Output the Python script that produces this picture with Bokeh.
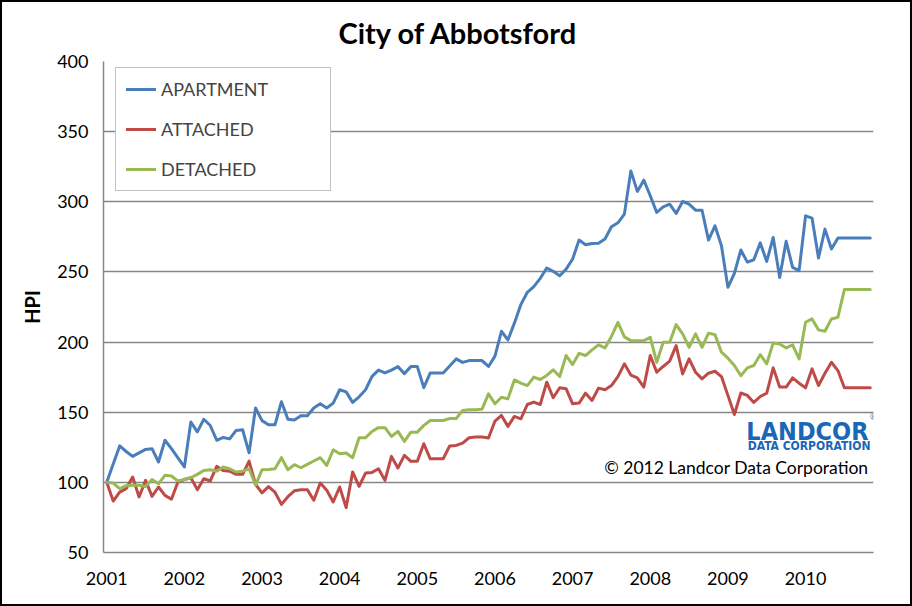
from bokeh.plotting import figure
from bokeh.models import Legend, LegendItem, Label, Range1d, FixedTicker, InlineStyleSheet
from bokeh.embed import file_html
from bokeh.resources import INLINE

year_labels = ["2001", "2002", "2003", "2004", "2005", "2006", "2007", "2008", "2009", "2010"]

apartment = [
    100, 113, 126, 122, 118.5, 121, 123.5, 124, 114.5, 130, 124, 117.5,
    111, 143, 136, 145, 140.5, 130, 132, 131, 137, 137.5, 121, 153,
    144, 141, 141, 157.5, 145, 144.5, 147.5, 147.5, 153, 156, 153, 156.5,
    166, 164.5, 157, 161, 166, 175.5, 180, 178, 180, 182.5, 177.5, 182.5,
    182.5, 167.5, 178, 178, 178, 183, 188, 185.5, 186.8, 186.8, 186.8, 182.6,
    190, 207.7, 201.5, 213.5, 226.7, 235.5, 239.5, 245.4, 252.8, 250.4, 247.3, 252,
    259.2, 272.7, 269.4, 270.3, 270.5, 273.5, 282.2, 285, 291.2, 322, 307.4, 315.4,
    304.3, 292.4, 296.4, 298.3, 291.7, 300.2, 298.3, 294, 294, 272.7, 282.9, 268.7,
    239, 249, 265.6, 257, 258.7, 270.7, 257.5, 274.6, 246.1, 271.8, 253.3, 250.9,
    290, 288.4, 260, 280.5, 266.3, 274.1, 274.1, 274.1, 274.1, 274.1, 274.1,
]

attached = [
    100, 86.7, 93, 95.5, 103.8, 89.6, 101.4, 90, 96.7, 90.7, 88, 100.2,
    102, 103.3, 94.8, 102.6, 101, 111.4, 108.5, 108, 105.7, 105.7, 115.2, 98.5,
    92.5, 97, 93, 84.3, 89.8, 94, 94.8, 94.8, 87.2, 99.5, 94.3, 86,
    96.7, 82, 107.4, 97.2, 106.6, 107.1, 109.7, 101.4, 118.5, 110.2, 119.2, 115,
    115, 127.5, 116.8, 116.8, 116.8, 126, 126.3, 128, 131.8, 132.3, 132.3, 131.6,
    143.7, 147.7, 139.9, 147, 145.3, 155.5, 157.2, 155.5, 171.4, 160.3, 167.4, 166.7,
    156, 156.5, 163.6, 158.4, 167.2, 166, 169, 175.4, 184.5, 176.5, 174.5, 167.9,
    190.4, 178.5, 182.6, 186.4, 197.5, 177.3, 188, 178.5, 173.8, 177.8, 179.2, 175.4,
    162, 148.4, 163.7, 162, 157, 161.2, 163.6, 181.6, 167.9, 167.9, 174.5, 170.7,
    167.4, 180.9, 169, 177.8, 185.6, 179.7, 167.4, 167.4, 167.4, 167.4, 167.4,
]

detached = [
    100, 99.5, 95.5, 97.6, 98, 98, 97, 102, 99, 105, 104.5, 101,
    102, 103.3, 105.7, 108.5, 109, 108, 111, 109.7, 107.4, 108, 109.7, 98,
    109, 109.2, 109.7, 117.6, 109, 112.6, 110.4, 112.8, 115.2, 117.6, 112, 123.2,
    120.4, 120.9, 117.6, 131.8, 131.8, 136.3, 139, 139, 132.7, 136.3, 129.2, 135.8,
    135.8, 140.6, 144.1, 144.1, 144.1, 145.5, 145.5, 151.2, 151.7, 151.7, 152.2, 163.1,
    156, 160.7, 159.5, 173, 170.7, 169, 175, 173.3, 176.2, 180.2, 175.4, 190.4,
    184, 192, 190.4, 194.4, 198, 195.8, 204, 214, 203.7, 201, 201, 201,
    203.4, 185.6, 199.9, 199.9, 212.5, 205.8, 196.3, 205.8, 196.3, 206.3, 205.3, 192.8,
    188.5, 183.3, 176, 181.6, 183.3, 191, 184.5, 199.4, 198.7, 195.8, 198, 188,
    214.1, 216.5, 208.7, 207.7, 216.5, 217.7, 237.4, 237.4, 237.4, 237.4, 237.4,
]

series_names = ["APARTMENT", "ATTACHED", "DETACHED"]
series_colors = ["#4A7EBB", "#BE4B48", "#98B954"]

n = len(apartment)
xs = list(range(n))

FONT = "Lato"
LOGO_FONT = "DejaVu Sans Condensed"
GRID = "#868686"

p = figure(width=912, height=606, output_backend="svg", toolbar_location=None,
           x_range=Range1d(-0.5, n - 0.5), y_range=Range1d(50, 400),
           min_border_left=103, min_border_right=39, min_border_top=60, min_border_bottom=54)
p.stylesheets = [InlineStyleSheet(css=(
    ":host { position: relative; }"
    ":host::after { content: ''; position: absolute; left: 0; top: 0; right: 0; bottom: 0;"
    " border: 2px solid black; pointer-events: none; z-index: 100; }"))]
p.title.text = "City of Abbotsford"
p.title.align = "left"
p.title.offset = 235
p.title.vertical_align = "bottom"
p.title.standoff = 24
p.title.text_font = FONT
p.title.text_font_style = "bold"
p.title.text_font_size = "29px"
p.title.text_color = "black"
p.background_fill_color = "white"
p.border_fill_color = "white"
p.outline_line_color = None

renderers = []
for vals, col in zip([apartment, attached, detached], series_colors):
    r = p.line(xs, vals, line_color=col, line_width=3, line_join="round", line_cap="round")
    renderers.append(r)

# axes
p.xaxis.ticker = FixedTicker(ticks=[12 * i for i in range(len(year_labels))])
p.xaxis.major_label_overrides = {12 * i: lab for i, lab in enumerate(year_labels)}
p.yaxis.ticker = FixedTicker(ticks=list(range(50, 401, 50)))
for ax in (p.xaxis, p.yaxis):
    ax.axis_line_color = GRID
    ax.axis_line_width = 1.5
    ax.major_tick_line_color = None
    ax.minor_tick_line_color = None
    ax.major_label_text_font = FONT
    ax.major_label_text_font_size = "18px"
    ax.major_label_text_color = "black"
p.xaxis.major_label_standoff = 13
p.yaxis.major_label_standoff = 9
p.yaxis.axis_label = "HPI"
p.yaxis.axis_label_text_font = FONT
p.yaxis.axis_label_text_font_style = "bold"
p.yaxis.axis_label_text_font_size = "20px"
p.yaxis.axis_label_text_color = "black"
p.yaxis.axis_label_standoff = 10
p.xgrid.visible = False
p.ygrid.grid_line_color = GRID
p.ygrid.grid_line_width = 1.5

legend = Legend(items=[LegendItem(label=nm, renderers=[r]) for nm, r in zip(series_names, renderers)],
                location=(12, 361), padding=10, spacing=18, margin=0,
                label_height=20, glyph_height=20, glyph_width=30, label_standoff=5,
                label_width=159, label_text_font=FONT, label_text_font_size="18px",
                border_line_color=GRID, border_line_width=1.5, background_fill_alpha=1.0)
p.add_layout(legend, "center")

# watermark
p.add_layout(Label(x=868 - 103, y=552 - 431, x_units="screen", y_units="screen",
                   text="LANDCOR", text_align="right", text_baseline="alphabetic",
                   text_font=LOGO_FONT, text_font_style="bold", text_font_size="25px",
                   text_color="#1A66B7"))
p.add_layout(Label(x=877 - 103, y=552 - 416, x_units="screen", y_units="screen",
                   text="®", text_align="right", text_baseline="alphabetic",
                   text_font=FONT, text_font_size="9px", text_color="#1A66B7"))
p.add_layout(Label(x=870 - 103, y=552 - 445, x_units="screen", y_units="screen",
                   text="DATA CORPORATION", text_align="right", text_baseline="alphabetic",
                   text_font=LOGO_FONT, text_font_style="bold", text_font_size="12px",
                   text_color="#1A66B7"))
p.add_layout(Label(x=868 - 103, y=552 - 467, x_units="screen", y_units="screen",
                   text="© 2012 Landcor Data Corporation", text_align="right", text_baseline="alphabetic",
                   text_font=FONT, text_font_size="17.5px", text_color="black"))

open("out.html", "w").write(file_html(p, INLINE))
